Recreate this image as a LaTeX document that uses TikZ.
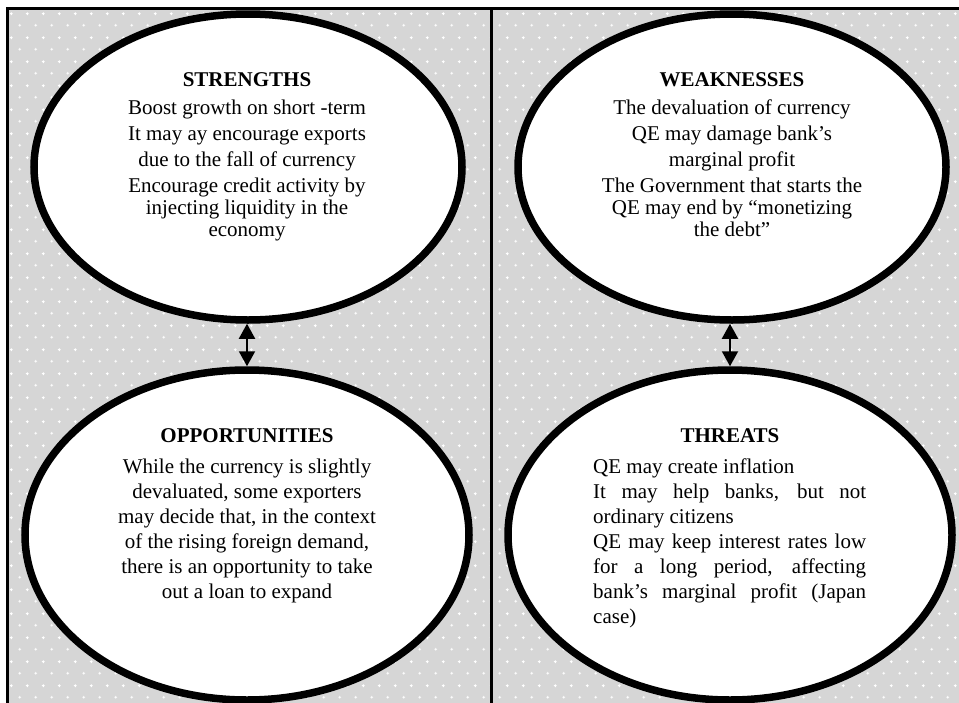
\documentclass[tikz,border=0pt]{standalone}
\usepackage{fontspec}
\setmainfont{Liberation Serif}
\usetikzlibrary{shapes.geometric,arrows.meta,patterns}

% light grey panel texture: small white crosses on a staggered grid
\pgfdeclarepatternformonly{plusdots}{\pgfqpoint{0pt}{0pt}}{\pgfqpoint{16pt}{24pt}}{\pgfqpoint{16pt}{24pt}}{%
  \pgfsetlinewidth{1pt}%
  \pgfpathmoveto{\pgfqpoint{2.5pt}{6pt}}\pgfpathlineto{\pgfqpoint{5.5pt}{6pt}}%
  \pgfpathmoveto{\pgfqpoint{4pt}{4.5pt}}\pgfpathlineto{\pgfqpoint{4pt}{7.5pt}}%
  \pgfpathmoveto{\pgfqpoint{10.5pt}{18pt}}\pgfpathlineto{\pgfqpoint{13.5pt}{18pt}}%
  \pgfpathmoveto{\pgfqpoint{12pt}{16.5pt}}\pgfpathlineto{\pgfqpoint{12pt}{19.5pt}}%
  \pgfusepath{stroke}}

\definecolor{panelgrey}{RGB}{214,214,214}

\tikzset{
  bubble/.style={ellipse, draw=black, line width=7.5pt, fill=white, inner sep=0pt},
  txt/.style={anchor=base, inner sep=0pt, font=\fontsize{21}{25}\selectfont},
  txtl/.style={txt, anchor=base west},
  frameline/.style={line width=3pt, draw=black},
  link/.style={line width=2pt, {Triangle[width=16pt,length=15pt]}-{Triangle[width=16pt,length=15pt]}}
}

\begin{document}
\begin{tikzpicture}[x=1pt,y=-1pt]
\useasboundingbox (0,0) rectangle (959,702);
\clip (0,0) rectangle (959,702);

% panel background
\fill[panelgrey] (7,8) rectangle (960,703);
\fill[pattern=plusdots, pattern color=white] (7,8) rectangle (960,703);

% frame lines
\draw[frameline] (7,704) -- (7,8) -- (962,8);
\draw[frameline] (491,8) -- (491,704);

% the four SWOT bubbles
\node[bubble, minimum width=428pt, minimum height=306pt] (S) at (248,167) {};
\node[bubble, minimum width=428pt, minimum height=306pt] (W) at (732,167) {};
\node[bubble, minimum width=444pt, minimum height=330pt] (O) at (247,535) {};
\node[bubble, minimum width=444pt, minimum height=330pt] (T) at (730,535) {};

% links between the upper and lower bubbles
\draw[link] (S.south -| O.north) -- (O.north);
\draw[link] (W.south -| T.north) -- (T.north);

% Strengths
\node[txt] (s0) at (247,86) {\textbf{STRENGTHS}};
\node[txt] (s1) at (247,114) {Boost growth on short -term};
\node[txt] (s2) at (247,140) {It may ay encourage exports};
\node[txt] (s3) at (247,166) {due to the fall of currency};
\node[txt] (s4) at (247,192) {Encourage credit activity by};
\node[txt] (s5) at (247,214) {injecting liquidity in the};
\node[txt] (s6) at (247,236) {economy};

% Weaknesses
\node[txt] (w0) at (732,86) {\textbf{WEAKNESSES}};
\node[txt] (w1) at (732,114) {The devaluation of currency};
\node[txt] (w2) at (732,140) {QE may damage bank’s};
\node[txt] (w3) at (732,166) {marginal profit};
\node[txt] (w4) at (732,192) {The Government that starts the};
\node[txt] (w5) at (732,214) {QE may end by “monetizing};
\node[txt] (w6) at (732,236) {the debt”};

% Opportunities
\node[txt] (o0) at (247,442) {\textbf{OPPORTUNITIES}};
\node[txt] (o1) at (247,473) {While the currency is slightly};
\node[txt] (o2) at (247,498) {devaluated, some exporters};
\node[txt] (o3) at (247,523) {may decide that, in the context};
\node[txt] (o4) at (247,548) {of the rising foreign demand,};
\node[txt] (o5) at (247,573) {there is an opportunity to take};
\node[txt] (o6) at (247,598) {out a loan to expand};

% Threats
\node[txt] (t0) at (730,442) {\textbf{THREATS}};
\node[txtl] (t1) at (593,473) {\makebox[273pt][l]{QE may create inflation}};
\node[txtl] (t2) at (593,498) {\makebox[273pt][s]{It may help banks, but not}};
\node[txtl] (t3) at (593,523) {\makebox[273pt][l]{ordinary citizens}};
\node[txtl] (t4) at (593,548) {\makebox[273pt][s]{QE may keep interest rates low}};
\node[txtl] (t5) at (593,573) {\makebox[273pt][s]{for a long period, affecting}};
\node[txtl] (t6) at (593,598) {\makebox[273pt][s]{bank’s marginal profit (Japan}};
\node[txtl] (t7) at (593,623) {\makebox[273pt][l]{case)}};
\end{tikzpicture}
\end{document}
